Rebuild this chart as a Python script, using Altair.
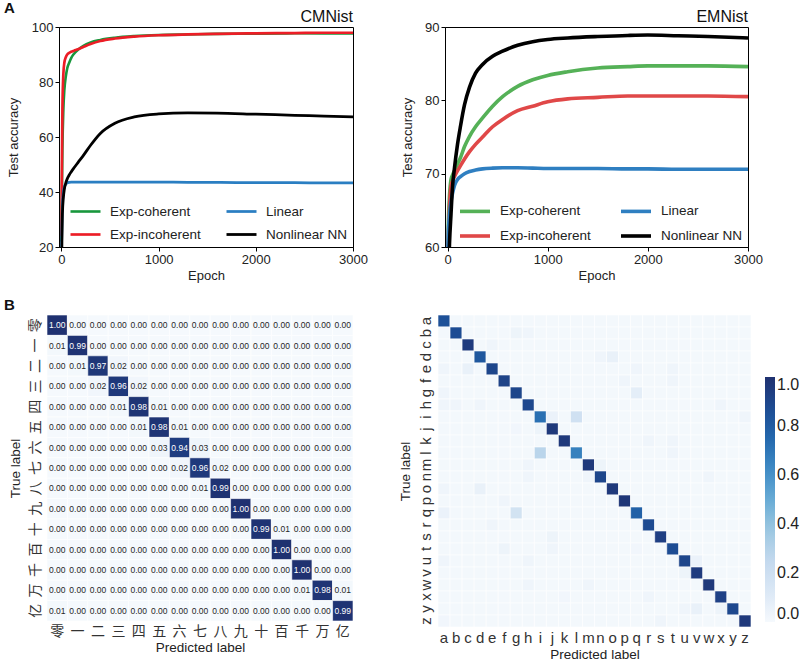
import altair as alt
import pandas as pd

FONT = "Liberation Sans"
CJK_FONT = "Noto Sans CJK SC"

# ---------------- Panel A: test accuracy vs. epoch ----------------
series_order = ["Exp-coherent", "Exp-incoherent", "Linear", "Nonlinear NN"]

cm_epochs = [0, 5, 10, 20, 30, 45, 60, 80, 100, 130, 170, 230, 300, 400, 550,
             750, 1000, 1300, 1600, 2000, 2400, 2700, 3000]
cm_exp_coherent = [22, 40, 55, 70, 77, 82, 85, 87, 88.7, 90.3, 91.7, 93.2, 94.4,
                   95.3, 96.1, 96.7, 97.1, 97.3, 97.5, 97.6, 97.7, 97.7, 97.7]
cm_exp_incoherent = [24, 50, 70, 83, 87, 89, 90, 90.6, 91, 91.4, 91.9, 92.8, 93.8,
                     94.9, 95.8, 96.5, 97.0, 97.3, 97.5, 97.7, 97.8, 97.9, 97.9]
cm_linear = [18, 28, 35, 40, 41.8, 42.8, 43.3, 43.5, 43.6, 43.6, 43.6, 43.6, 43.6,
             43.6, 43.6, 43.6, 43.6, 43.5, 43.5, 43.4, 43.4, 43.3, 43.3]
cm_nonlinear = [5, 22, 32, 38, 41, 43.3, 44.8, 46.2, 47.3, 48.8, 50.7, 53.5, 57,
                61.3, 65, 67.3, 68.4, 68.8, 68.7, 68.3, 67.9, 67.6, 67.3]

em_epochs = [0, 10, 20, 35, 50, 70, 100, 130, 170, 220, 280, 350, 450, 550, 700,
             850, 1000, 1200, 1500, 1800, 2000, 2300, 2600, 3000]
em_exp_coherent = [58, 64, 67, 69.2, 69.8, 70.4, 71.3, 72.2, 73.7, 75.1, 76.4, 77.6,
                   79.2, 80.5, 81.9, 82.8, 83.4, 83.9, 84.4, 84.6, 84.7, 84.7, 84.7, 84.6]
em_exp_incoherent = [57, 62, 65.5, 68.3, 69.0, 69.6, 70.4, 71.1, 72.0, 73.0, 74.0, 75.0,
                     76.4, 77.4, 78.6, 79.2, 79.8, 80.2, 80.4, 80.6, 80.6, 80.6, 80.6, 80.5]
em_linear = [58, 62.5, 64.5, 66.2, 67.3, 68.4, 69.2, 69.6, 70.0, 70.3, 70.5, 70.65,
             70.75, 70.8, 70.8, 70.75, 70.7, 70.7, 70.7, 70.65, 70.65, 70.6, 70.6, 70.6]
em_nonlinear = [52, 56, 60.5, 64.5, 68.2, 70.8, 74, 76.5, 79.4, 81.8, 83.7, 84.9, 86,
                86.7, 87.5, 88.0, 88.3, 88.5, 88.7, 88.85, 88.9, 88.8, 88.7, 88.5]

# ---------------- Panel B: confusion matrices ----------------
cm_labels = ["零", "一", "二", "三", "四", "五", "六", "七", "八", "九", "十", "百", "千", "万", "亿"]
cm_matrix = [
    [1.00, 0.00, 0.00, 0.00, 0.00, 0.00, 0.00, 0.00, 0.00, 0.00, 0.00, 0.00, 0.00, 0.00, 0.00],
    [0.01, 0.99, 0.00, 0.00, 0.00, 0.00, 0.00, 0.00, 0.00, 0.00, 0.00, 0.00, 0.00, 0.00, 0.00],
    [0.00, 0.01, 0.97, 0.02, 0.00, 0.00, 0.00, 0.00, 0.00, 0.00, 0.00, 0.00, 0.00, 0.00, 0.00],
    [0.00, 0.00, 0.02, 0.96, 0.02, 0.00, 0.00, 0.00, 0.00, 0.00, 0.00, 0.00, 0.00, 0.00, 0.00],
    [0.00, 0.00, 0.00, 0.01, 0.98, 0.01, 0.00, 0.00, 0.00, 0.00, 0.00, 0.00, 0.00, 0.00, 0.00],
    [0.00, 0.00, 0.00, 0.00, 0.01, 0.98, 0.01, 0.00, 0.00, 0.00, 0.00, 0.00, 0.00, 0.00, 0.00],
    [0.00, 0.00, 0.00, 0.00, 0.00, 0.03, 0.94, 0.03, 0.00, 0.00, 0.00, 0.00, 0.00, 0.00, 0.00],
    [0.00, 0.00, 0.00, 0.00, 0.00, 0.00, 0.02, 0.96, 0.02, 0.00, 0.00, 0.00, 0.00, 0.00, 0.00],
    [0.00, 0.00, 0.00, 0.00, 0.00, 0.00, 0.00, 0.01, 0.99, 0.00, 0.00, 0.00, 0.00, 0.00, 0.00],
    [0.00, 0.00, 0.00, 0.00, 0.00, 0.00, 0.00, 0.00, 0.00, 1.00, 0.00, 0.00, 0.00, 0.00, 0.00],
    [0.00, 0.00, 0.00, 0.00, 0.00, 0.00, 0.00, 0.00, 0.00, 0.00, 0.99, 0.01, 0.00, 0.00, 0.00],
    [0.00, 0.00, 0.00, 0.00, 0.00, 0.00, 0.00, 0.00, 0.00, 0.00, 0.00, 1.00, 0.00, 0.00, 0.00],
    [0.00, 0.00, 0.00, 0.00, 0.00, 0.00, 0.00, 0.00, 0.00, 0.00, 0.00, 0.00, 1.00, 0.00, 0.00],
    [0.00, 0.00, 0.00, 0.00, 0.00, 0.00, 0.00, 0.00, 0.00, 0.00, 0.00, 0.00, 0.01, 0.98, 0.01],
    [0.01, 0.00, 0.00, 0.00, 0.00, 0.00, 0.00, 0.00, 0.00, 0.00, 0.00, 0.00, 0.00, 0.00, 0.99],
]

em_labels = list("abcdefghijklmnopqrstuvwxyz")
em_diagonal = [0.85, 0.87, 0.95, 0.82, 0.90, 0.91, 0.90, 0.89, 0.72, 0.96, 0.96, 0.66, 0.96,
               0.90, 0.96, 0.97, 0.78, 0.88, 0.93, 0.87, 0.90, 0.95, 0.96, 0.92, 0.89, 0.96]
em_background = 0.01
em_confusions = [
    ("b", "g", 0.04), ("b", "h", 0.03), ("c", "e", 0.03), ("d", "n", 0.03), ("d", "o", 0.06),
    ("e", "a", 0.03), ("e", "c", 0.06), ("e", "q", 0.03), ("e", "t", 0.03), ("f", "p", 0.03),
    ("f", "t", 0.03), ("g", "a", 0.03), ("g", "q", 0.08), ("h", "a", 0.03), ("h", "b", 0.03),
    ("h", "d", 0.03), ("h", "x", 0.03), ("i", "j", 0.05), ("i", "l", 0.18), ("i", "z", 0.03),
    ("j", "i", 0.04), ("j", "g", 0.02), ("k", "r", 0.03), ("k", "t", 0.03), ("l", "i", 0.28),
    ("l", "t", 0.03), ("m", "h", 0.03), ("m", "n", 0.04), ("n", "h", 0.03), ("n", "m", 0.03),
    ("n", "w", 0.03), ("o", "a", 0.03), ("o", "d", 0.06), ("p", "f", 0.03), ("q", "a", 0.05),
    ("q", "g", 0.17), ("r", "e", 0.03), ("s", "j", 0.04), ("t", "f", 0.04), ("t", "j", 0.03),
    ("t", "q", 0.02), ("u", "a", 0.03), ("u", "h", 0.03), ("u", "v", 0.05), ("v", "u", 0.04),
    ("w", "h", 0.03), ("w", "m", 0.03), ("x", "k", 0.02), ("x", "r", 0.03), ("y", "u", 0.03),
    ("y", "v", 0.06), ("y", "x", 0.04), ("z", "a", 0.02), ("z", "s", 0.03),
]

heat_domain = [0, 0.125, 0.25, 0.375, 0.5, 0.625, 0.75, 0.875, 1.0]
heat_range = ["#f5f9fd", "#dbe8f5", "#c3d9ee", "#9cc8e1", "#68abd5",
              "#3f8bc5", "#2468ad", "#1d4b92", "#1f3170"]

# panel letters and dataset names printed around the panels
annotations = pd.DataFrame({"text": ["A", "B", "CMNist", "EMNist"]})


def curves_frame(epochs, series):
    rows = []
    for name, values in series.items():
        for e, v in zip(epochs, values):
            rows.append({"epoch": e, "acc": v, "model": name})
    return pd.DataFrame(rows)


def annotation(text, dx, dy, size, weight, align, baseline):
    return (
        alt.Chart(annotations)
        .transform_filter(alt.datum.text == text)
        .mark_text(fontSize=size, fontWeight=weight, align=align, baseline=baseline,
                   color="#111111", font=FONT)
        .encode(text="text:N", x=alt.value(dx), y=alt.value(dy))
    )


def accuracy_lines(df, y_domain, y_ticks, colors, widths, title_pad, legend_x, legend_y, col_pad):
    return (
        alt.Chart(df)
        .mark_line(clip=True, interpolate="monotone")
        .encode(
            x=alt.X("epoch:Q",
                    scale=alt.Scale(domain=[-25, 3000], nice=False, zero=False),
                    axis=alt.Axis(values=[0, 1000, 2000, 3000], format="d", title="Epoch",
                                  labelFlush=False, titlePadding=3)),
            y=alt.Y("acc:Q",
                    scale=alt.Scale(domain=y_domain, nice=False, zero=False),
                    axis=alt.Axis(values=y_ticks, title="Test accuracy", titlePadding=title_pad)),
            color=alt.Color("model:N",
                            scale=alt.Scale(domain=series_order, range=colors),
                            legend=alt.Legend(orient="none", legendX=legend_x, legendY=legend_y,
                                              columns=2, title=None, symbolType="stroke",
                                              symbolSize=900, symbolStrokeWidth=3,
                                              labelFontSize=13.5, labelOffset=8,
                                              columnPadding=col_pad, rowPadding=-19, padding=0)),
            strokeWidth=alt.StrokeWidth("model:N",
                                        scale=alt.Scale(domain=series_order, range=widths),
                                        legend=None),
        )
    )


cm_curves = curves_frame(cm_epochs, {
    "Exp-coherent": cm_exp_coherent, "Exp-incoherent": cm_exp_incoherent,
    "Linear": cm_linear, "Nonlinear NN": cm_nonlinear})
em_curves = curves_frame(em_epochs, {
    "Exp-coherent": em_exp_coherent, "Exp-incoherent": em_exp_incoherent,
    "Linear": em_linear, "Nonlinear NN": em_nonlinear})

frame = alt.ViewBackground(stroke="black", strokeWidth=1)

cm_line = alt.layer(
    accuracy_lines(cm_curves, [20, 100], [20, 40, 60, 80, 100],
                   ["#18973c", "#ec1d26", "#2a7ec2", "#000000"], [2.6, 2.8, 2.4, 2.4],
                   11, 10, 168, 19),
    annotation("A", -55, -26, 15, "bold", "left", "top"),
    annotation("CMNist", 294, -5, 16, "normal", "right", "alphabetic"),
).properties(width=294, height=220, view=frame)

em_line = alt.layer(
    accuracy_lines(em_curves, [60, 90], [60, 70, 80, 90],
                   ["#55b157", "#e04848", "#2f7fc1", "#000000"], [3.6, 3.6, 2.4, 2.4],
                   10, 13, 167, 22),
    annotation("EMNist", 303, -5, 16, "normal", "right", "alphabetic"),
).properties(width=303, height=220, view=frame)

# confusion matrix tables
cm_rows = []
for i, t in enumerate(cm_labels):
    for j, p in enumerate(cm_labels):
        cm_rows.append({"true": t, "pred": p, "v": cm_matrix[i][j]})
cm_df = pd.DataFrame(cm_rows)

em_extra = {(t, p): v for t, p, v in em_confusions}
em_rows = []
for i, t in enumerate(em_labels):
    for j, p in enumerate(em_labels):
        v = em_diagonal[i] if i == j else em_extra.get((t, p), em_background)
        em_rows.append({"true": t, "pred": p, "v": v})
em_df = pd.DataFrame(em_rows)


def heat_axes(labels, label_font, label_size, x_range=None, y_offset=0):
    x_scale = alt.Scale(range=x_range) if x_range else alt.Scale()
    x = alt.X("pred:O", sort=labels, scale=x_scale,
              axis=alt.Axis(title="Predicted label", labelAngle=0, ticks=False, domain=False,
                            labelFont=label_font, labelFontSize=label_size, labelPadding=3,
                            titlePadding=2, labelColor="#333333", titleFontSize=13.5))
    y = alt.Y("true:O", sort=labels,
              axis=alt.Axis(title="True label", labelAngle=270, ticks=False, domain=False,
                            labelAlign="center", labelBaseline="bottom", offset=y_offset,
                            labelFont=label_font, labelFontSize=label_size, labelPadding=5,
                            titlePadding=6, labelColor="#333333", titleFontSize=13.5))
    return x, y


# the CMNist matrix starts a little to the left of the accuracy plot above it
cx, cy = heat_axes(cm_labels, CJK_FONT, 14, x_range=[-12, 294], y_offset=12)
cm_base = alt.Chart(cm_df).encode(x=cx, y=cy)
cm_heat = alt.layer(
    cm_base.mark_rect(stroke="white", strokeWidth=0.6).encode(
        color=alt.Color("v:Q", scale=alt.Scale(domain=heat_domain, range=heat_range), legend=None)),
    cm_base.mark_text(fontSize=8.5, font=FONT).encode(
        text=alt.Text("v:Q", format=".2f"),
        color=alt.condition(alt.datum.v > 0.5, alt.value("white"), alt.value("#262626"))),
    annotation("B", -55, -17, 15, "bold", "left", "top"),
).properties(width=294, height=306)

ex, ey = heat_axes(em_labels, FONT, 15)
em_heat = alt.Chart(em_df).mark_rect(stroke="white", strokeWidth=0.6).encode(
    x=ex, y=ey,
    color=alt.Color("v:Q", scale=alt.Scale(domain=heat_domain, range=heat_range),
                    legend=alt.Legend(orient="none", legendX=327, legendY=62, title=None,
                                      gradientLength=245, gradientThickness=10,
                                      gradientStrokeWidth=0, values=[0, 0.2, 0.4, 0.6, 0.8, 1.0],
                                      format=".1f", labelFontSize=16, labelOffset=2,
                                      labelBaseline="middle", padding=0,
                                      direction="vertical")),
).properties(width=313, height=312)

top = alt.hconcat(cm_line, em_line, spacing=33).resolve_scale(
    color="independent", strokeWidth="independent")
bottom = alt.hconcat(cm_heat, em_heat, spacing=33).resolve_scale(color="independent")

chart = (
    alt.vconcat(top, bottom, spacing=15)
    .resolve_scale(color="independent", strokeWidth="independent")
    .properties(padding={"left": 3, "top": 0, "right": 0, "bottom": 0}, background="white")
    .configure(font=FONT)
    .configure_view(stroke=None)
    .configure_axis(labelFontSize=13, titleFontSize=13, titleFontWeight="normal",
                    labelColor="#222222", titleColor="#222222", grid=False,
                    domainColor="black", tickColor="black", tickSize=4, labelPadding=2)
    .configure_legend(labelFont=FONT, labelColor="#222222")
)

chart.save("out.html", embed_options={"renderer": "svg", "actions": False})
